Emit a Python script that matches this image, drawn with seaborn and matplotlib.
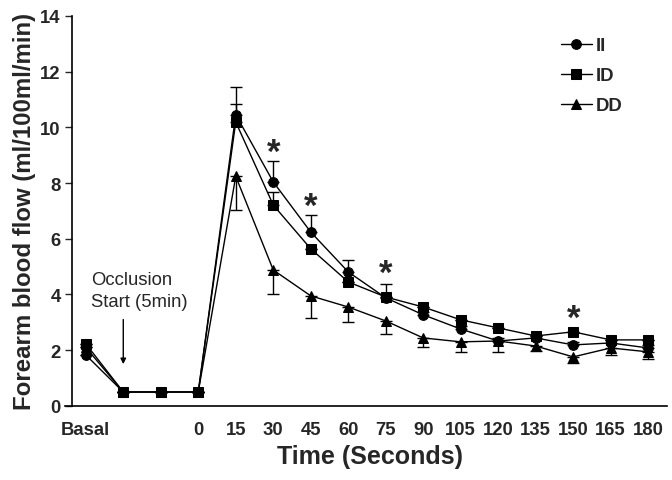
import matplotlib
matplotlib.use("Agg")
import matplotlib.pyplot as plt
import seaborn as sns
import pandas as pd

# x positions: Basal, two occlusion points, then 0..180 s every 15 s
tick_labels = ['Basal', '', '', '0', '15', '30', '45', '60', '75', '90',
               '105', '120', '135', '150', '165', '180']
positions = list(range(len(tick_labels)))

ii = [1.83, 0.5, 0.5, 0.5, 10.45, 8.04, 6.24, 4.81, 3.88, 3.27, 2.76, 2.33, 2.44, 2.19, 2.26, 2.08]
id_ = [2.23, 0.5, 0.5, 0.5, 10.19, 7.21, 5.64, 4.45, 3.91, 3.55, 3.09, 2.8, 2.51, 2.66, 2.37, 2.37]
dd = [2.1, 0.5, 0.5, 0.5, 8.24, 4.88, 3.95, 3.55, 3.05, 2.44, 2.3, 2.33, 2.15, 1.76, 2.08, 1.94]

# one-sided SEM bars: II and ID upward, DD downward
ii_err = [0, 0, 0, 0, 1.0, 0.75, 0.62, 0.43, 0.5, 0.1, 0.1, 0.1, 0.1, 0.1, 0.1, 0.1]
id_err = [0, 0, 0, 0, 0.65, 0.47, 0, 0, 0, 0, 0, 0, 0, 0, 0, 0]
dd_err = [0, 0, 0, 0, 1.2, 0.86, 0.79, 0.53, 0.47, 0.32, 0.36, 0.39, 0.18, 0.22, 0.25, 0.25]

star_positions = [5, 6, 8, 13]
star_heights = [9.1, 7.15, 4.75, 3.15]

groups = ['II', 'ID', 'DD']
df = pd.DataFrame({
    'pos': positions * 3,
    'flow': ii + id_ + dd,
    'group': [g for g in groups for _ in positions],
})

sns.set_theme(style="ticks")
plt.rcParams['font.family'] = ['Liberation Sans', 'DejaVu Sans']

fig = plt.figure(figsize=(6.72, 4.81), dpi=100)
ax = fig.add_axes([0.107, 0.154, 0.886, 0.811])

ax.errorbar(positions, ii, yerr=[[0] * len(ii), ii_err], fmt='none',
            ecolor='black', elinewidth=1, capsize=4, capthick=1)
ax.errorbar(positions, id_, yerr=[[0] * len(id_), id_err], fmt='none',
            ecolor='black', elinewidth=1, capsize=4, capthick=1)
ax.errorbar(positions, dd, yerr=[dd_err, [0] * len(dd)], fmt='none',
            ecolor='black', elinewidth=1, capsize=4, capthick=1)

sns.lineplot(data=df, x='pos', y='flow', style='group', style_order=groups,
             markers={'II': 'o', 'ID': 's', 'DD': '^'}, dashes=False,
             color='black', linewidth=1, markersize=7, markeredgecolor='black',
             ax=ax, sort=False)

# significance markers
for p, h in zip(star_positions, star_heights):
    ax.text(p, h, '*', ha='center', va='center', fontsize=25, fontweight='bold')

ax.annotate('', xy=(1, 1.4), xytext=(1, 3.2),
            arrowprops=dict(arrowstyle='-|>', color='black', lw=1, mutation_scale=8))
ax.text(0.15, 4.15, 'Occlusion\nStart (5min)', fontsize=13.3, ha='left', va='center',
        linespacing=1.35)

ax.set_xlim(-0.37, 15.51)
ax.set_ylim(0, 14)
ax.set_xticks(positions)
ax.set_xticklabels(tick_labels, fontsize=13.3, fontweight='bold')
ax.set_yticks(range(0, 15, 2))
ax.set_yticklabels([str(v) for v in range(0, 15, 2)], fontsize=13.3, fontweight='bold')
ax.tick_params(axis='x', length=0, pad=11)
ax.tick_params(axis='y', length=5, width=1, direction='out', pad=3)
ax.set_xlabel('Time (Seconds)', fontsize=18, fontweight='bold', labelpad=4)
ax.set_ylabel('Forearm blood flow (ml/100ml/min)', fontsize=17.3, fontweight='bold', labelpad=3)
sns.despine(ax=ax)
for s in ['left', 'bottom']:
    ax.spines[s].set_color('black')
    ax.spines[s].set_linewidth(1.2)
ax.spines['bottom'].set_bounds(-0.56, 15.51)

leg = ax.legend(loc='upper left', bbox_to_anchor=(0.835, 0.92), bbox_transform=fig.transFigure,
                frameon=False, handlelength=1.65, labelspacing=0.7, handletextpad=0.2,
                borderpad=0, borderaxespad=0, prop={'weight': 'bold', 'size': 13.3})

fig.savefig('out.png', dpi=100)
